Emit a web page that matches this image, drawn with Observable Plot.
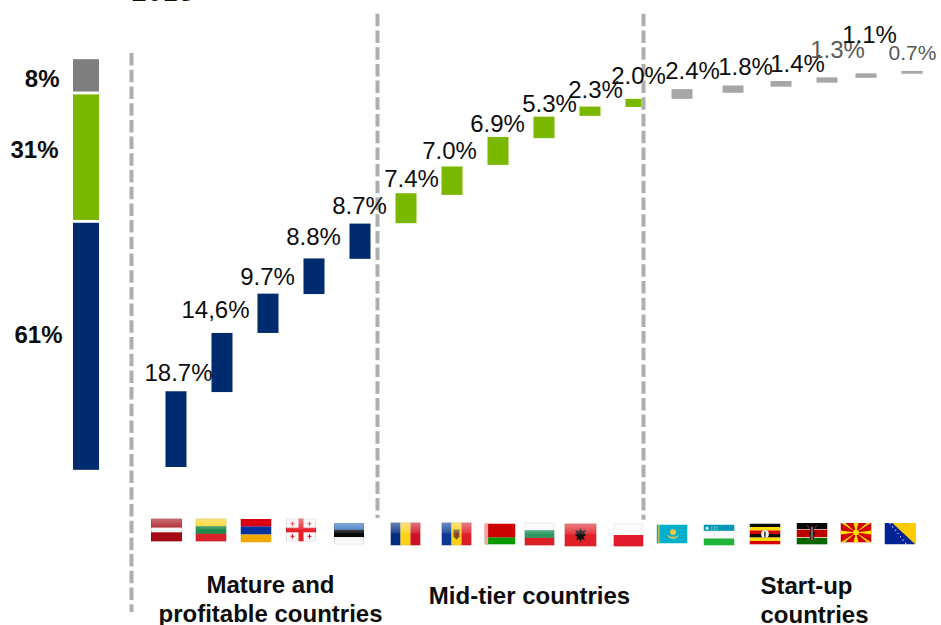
<!DOCTYPE html>
<html>
<head>
<meta charset="utf-8">
<style>
  html, body { margin: 0; padding: 0; background: #fff; }
  svg { display: block; }
</style>
<script src="https://cdn.jsdelivr.net/npm/d3@7"></script>
<script src="https://cdn.jsdelivr.net/npm/@observablehq/plot@0.6"></script>
</head>
<body>
<div id="chart"></div>
<script>
// Share of the total by country, in percent
const countries = ["Latvia","Lithuania","Armenia","Georgia","Estonia","Romania","Moldova","Belarus","Bulgaria","Albania","Poland","Kazakhstan","Uzbekistan","Uganda","Kenya","Macedonia","Bosnia"];
const shares = [18.7,14.6,9.7,8.8,8.7,7.4,7.0,6.9,5.3,2.3,2.0,2.4,1.8,1.4,1.3,1.1,0.7];
const shareLabels = ["18.7%","14,6%","9.7%","8.8%","8.7%","7.4%","7.0%","6.9%","5.3%","2.3%","2.0%","2.4%","1.8%","1.4%","1.3%","1.1%","0.7%"];
const barStarts = [0,18.5,33.1,42.7,51.4,60.2,67.2,74.6,81.2,86.7,88.9,90.9,92.4,93.9,94.9,96.1,97.1];
const tiers = ["mature","mature","mature","mature","mature","mid","mid","mid","mid","mid","mid","startup","startup","startup","startup","startup","startup"];

// Stacked share of each tier
const stackTiers = ["mature","mid","startup"];
const stackShares = [61,31,8];
const stackStarts = [-0.7,61,92.7];

const tierColors = {mature:"#002b6e", mid:"#7ab800", startup:"#a6a6a6"};
const stackColors = {mature:"#002b6e", mid:"#7ab800", startup:"#7f7f7f"};

// Small per-mark offsets, in pixels
const barDx = [0,0,0,0,0,0,0,0,0,0,0,0,5,7,7,0,0];
const labelDx = [2,-7,-1,-1,-1,5,-3,-1,5,5,2,10,17,23,17,3,0];
const labelDy = [-18,-23,-17,-22,-18,-14,-16,-13,-13,-17,-23,-18,-19,-17,-28,-39,-18];
const labelFill = shareLabels.map(s => (s === "1.3%" || s === "0.7%") ? "#595959" : "#0d0d0d");
const labelSize = shareLabels.map(s => s === "0.7%" ? 21 : 24);

// Flag artwork: viewBox 60x40, with a glossy overlay on some flags
const gloss = `<defs><linearGradient id="g" x1="0" y1="0" x2="0" y2="1"><stop offset="0" stop-color="#fff" stop-opacity=".42"/><stop offset=".45" stop-color="#fff" stop-opacity=".12"/><stop offset=".5" stop-color="#fff" stop-opacity="0"/></linearGradient></defs><rect width="60" height="40" fill="url(#g)"/><rect x=".6" y=".6" width="58.8" height="38.8" fill="none" stroke="#000" stroke-opacity=".18" stroke-width="1.2"/>`;
const svgUri = body => "data:image/svg+xml;utf8," + encodeURIComponent(`<svg xmlns="http://www.w3.org/2000/svg" viewBox="0 0 60 40" preserveAspectRatio="none">${body}</svg>`);
const hStripes = (colors, weights) => {
  const w = weights || colors.map(() => 1);
  const total = d3.sum(w);
  let y = 0;
  return colors.map((c, i) => {
    const h = w[i] / total * 40;
    const r = `<rect y="${y}" width="60" height="${h + 0.2}" fill="${c}"/>`;
    y += h;
    return r;
  }).join("");
};
const vStripes = colors => colors.map((c, i) => `<rect x="${i * 20}" width="20.2" height="40" fill="${c}"/>`).join("");

const flagArt = {
  Latvia: hStripes(["#a50a14","#f5f5f5","#a50a14"],[2,1,2]) + gloss,
  Lithuania: hStripes(["#fcd116","#1f8a4c","#d8222a"]) + gloss,
  Armenia: hStripes(["#d90012","#0033a0","#f2a800"]),
  Georgia: `<rect width="60" height="40" fill="#f8f8f8"/><rect x="25" width="10" height="40" fill="#e8202a"/><rect y="16" width="60" height="8" fill="#e8202a"/><g fill="#e8202a"><rect x="9" y="8" width="8" height="2"/><rect x="12" y="5" width="2" height="8"/><rect x="43" y="8" width="8" height="2"/><rect x="46" y="5" width="2" height="8"/><rect x="9" y="30" width="8" height="2"/><rect x="12" y="27" width="2" height="8"/><rect x="43" y="30" width="8" height="2"/><rect x="46" y="27" width="2" height="8"/></g>` + gloss,
  Estonia: hStripes(["#2f6fc0","#0a0a0a","#fafafa"]) + gloss,
  Romania: vStripes(["#002b7f","#fcd116","#ce1126"]) + gloss,
  Moldova: vStripes(["#0a3a96","#fcd116","#dd1f2c"]) + `<path d="M24 12h12v12l-6 6-6-6z" fill="#6f5a26"/><rect x="28" y="17" width="4" height="7" fill="#b3242a"/>` + gloss,
  Belarus: hStripes(["#cc0000","#009900"],[2,1]) + `<rect width="7" height="40" fill="#f4a6a6"/>`,
  Bulgaria: hStripes(["#fafafa","#2a9a62","#dc1f26"]) + gloss,
  Albania: `<rect width="60" height="40" fill="#e01f26"/><path d="M30 8l3 5 7-2-3 7 4 1-5 4 2 6-6-2-2 6-2-6-6 2 2-6-5-4 4-1-3-7 7 2z" fill="#151010"/>` + gloss,
  Poland: hStripes(["#fafafa","#e01a2a"]) + gloss,
  Kazakhstan: `<rect width="60" height="40" fill="#00afca"/><rect x="3" width="3" height="40" fill="#c7b84a"/><circle cx="32" cy="16" r="6" fill="#e6c94a"/><path d="M20 20c3 9 8 10 12 10s9-1 12-10c-3 4-7 6-12 6s-9-2-12-6z" fill="#dcc64c"/>`,
  Uzbekistan: hStripes(["#0099b5","#bdbdbd","#fafafa","#bdbdbd","#1eb53a"],[12,1,13,1,13]) + `<g fill="#d5eef3"><circle cx="7" cy="7" r="3"/><rect x="15" y="4" width="2" height="2"/><rect x="20" y="4" width="2" height="2"/><rect x="15" y="8" width="2" height="2"/><rect x="20" y="8" width="2" height="2"/><rect x="25" y="4" width="2" height="2"/><rect x="25" y="8" width="2" height="2"/></g>`,
  Uganda: hStripes(["#0a0a0a","#fcdc04","#d90000","#0a0a0a","#fcdc04","#d90000"]) + `<circle cx="30" cy="20" r="7.5" fill="#f5f5f5"/><path d="M29 14l3 3-1 8 1 2h-3l-1-5z" fill="#444"/>`,
  Kenya: hStripes(["#0a0a0a","#fafafa","#bb0000","#fafafa","#006600"],[12,1,14,1,12]) + `<ellipse cx="30" cy="20" rx="5" ry="13" fill="#bb0000"/><path d="M25 20c0-6 2-10 5-13 3 3 5 7 5 13s-2 10-5 13c-3-3-5-7-5-13z" fill="#0a0a0a" fill-opacity=".85"/><rect x="29.3" y="8" width="1.4" height="24" fill="#fafafa"/><path d="M21 5l18 30M39 5L21 35" stroke="#888" stroke-width=".8"/>`,
  Macedonia: `<rect width="60" height="40" fill="#d20000"/><g fill="#ffe600"><path d="M30 20L0 16v8z"/><path d="M30 20l30-4v8z"/><path d="M30 20L25 0h10z"/><path d="M30 20L25 40h10z"/><path d="M30 20L0 0h8z"/><path d="M30 20L60 0h-8z"/><path d="M30 20L0 40h8z"/><path d="M30 20l30 20h-8z"/><circle cx="30" cy="20" r="5.5"/></g>`,
  Bosnia: `<rect width="60" height="40" fill="#002395"/><path d="M14 0h46v40z" fill="#fecb00"/><path d="M10 1h2v2h-2zM15 7h2v2h-2zM20 13h2v2h-2zM25 19h2v2h-2zM30 25h2v2h-2zM35 31h2v2h-2zM40 37h2v2h-2z" fill="#fff"/>`
};

const flagSizes = [[31,23],[31,23],[31,24],[30,23],[30,22],[30,23],[30,23],[31,21],[30,23],[32,23],[30,23],[31,19],[31,21],[31,21],[31,22],[31,20],[31,22]];
const flagCenterDy = [-95.5,-95.5,-95,-95.5,-92,-91.5,-91.5,-91.5,-91.5,-90.5,-90.5,-91.5,-90.5,-91.5,-92,-93,-92];
const flagDx = [-10,-11.5,-12.5,-13.5,-11.5,-1,4,1.5,-5,-10,-8,-10.5,-9.5,-9.5,-8.5,-10.5,-12.5];

// Tier captions below the flags
const tierCaptions = [
  {text:"Mature and\nprofitable countries", at:"Armenia", dx:2, dy:-27},
  {text:"Mid-tier countries", at:"Bulgaria", dx:-15, dy:-31},
  {text:"Start-up", at:"Kenya", dx:-14, dy:-41},
  {text:"countries", at:"Kenya", dx:-6, dy:-12}
];

// Dashed dividers between the tiers
const dividers = [
  {at:"gap", dx:1, from:102.2, to:-35.8},
  {at:"Estonia", dx:17, from:111.9, to:-12.6},
  {at:"Poland", dx:7, from:111.9, to:-13}
];

const waterfall = countries.map((country, i) => ({
  country, share: shares[i], start: barStarts[i], top: barStarts[i] + shares[i],
  tier: tiers[i], label: shareLabels[i]
}));
const stack = stackTiers.map((tier, i) => ({
  tier, share: stackShares[i], start: stackStarts[i], top: stackStarts[i] + stackShares[i],
  label: stackShares[i] + "%"
}));
const stackLabelDy = [-11, -7, 3.5];
const stackLabelDx = [-22, -26, -25];

const chart = Plot.plot({
  width: 941,
  height: 625,
  margin: 0,
  style: {background: "#fff", fontFamily: "'Liberation Sans', Arial, sans-serif"},
  x: {type: "band", domain: ["total", "gap", ...countries], range: [48.5, 947.5], padding: 0.543, round: false, axis: null},
  y: {domain: [0, 100], range: [467, 62], axis: null},
  marks: [
    // Total stack on the left
    ...stack.map((d, i) => Plot.barY([d], {
      x: () => "total", y1: "start", y2: "top", fill: stackColors[d.tier],
      insetLeft: -2.5, insetRight: -2.5, dx: 2
    })),
    ...stack.map((d, i) => Plot.text([d], {
      x: () => "total", y: v => v.start + v.share / 2, text: "label",
      dx: stackLabelDx[i], dy: stackLabelDy[i], fontSize: 24, fontWeight: 700, textAnchor: "end", fill: "#0d0d0d"
    })),
    // One bar per country
    ...waterfall.map((d, i) => Plot.barY([d], {
      x: "country", y1: "start", y2: "top", fill: tierColors[d.tier], dx: barDx[i],
      insetRight: d.country === "Poland" ? 5 : 0
    })),
    // Dividers
    ...dividers.map(d => Plot.ruleX([d], {
      x: "at", y1: "from", y2: "to", dx: d.dx,
      stroke: "#aeaeae", strokeWidth: 4, strokeDasharray: "12.5,4.2"
    })),
    // Share labels
    ...waterfall.map((d, i) => Plot.text([d], {
      x: "country", y: "top", text: "label", dx: labelDx[i], dy: labelDy[i],
      fontSize: labelSize[i], fill: labelFill[i]
    })),
    // Flags
    ...waterfall.map((d, i) => Plot.image([d], {
      x: "country", frameAnchor: "bottom",
      src: v => svgUri(flagArt[v.country]),
      width: flagSizes[i][0], height: flagSizes[i][1],
      dx: flagDx[i], dy: flagCenterDy[i], preserveAspectRatio: "none"
    })),
    // Tier captions
    ...tierCaptions.map(c => Plot.text([c], {
      x: "at", frameAnchor: "bottom", text: "text", dx: c.dx, dy: c.dy,
      fontSize: 24, fontWeight: 700, lineHeight: 1.19, lineAnchor: "middle", fill: "#0d0d0d"
    })),
    // Year heading, cut by the upper edge of the frame
    Plot.text(["2013"], {
      x: () => "gap", frameAnchor: "top", text: d => d, dx: 32, dy: 0.5,
      fontSize: 28, lineAnchor: "bottom", fill: "#0d0d0d"
    })
  ]
});
document.getElementById("chart").appendChild(chart);
</script>
</body>
</html>
